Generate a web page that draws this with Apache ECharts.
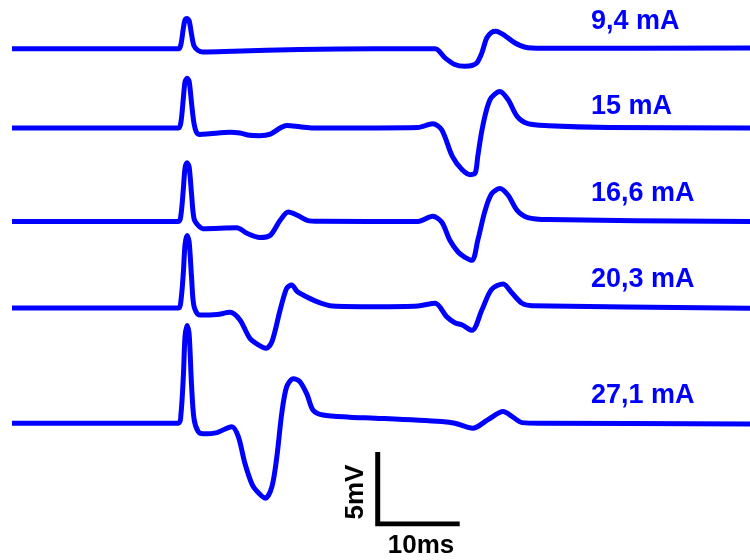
<!DOCTYPE html>
<html>
<head>
<meta charset="utf-8">
<script src="https://cdn.jsdelivr.net/npm/echarts@6/dist/echarts.min.js"></script>
<style>
  html, body { margin: 0; padding: 0; background: #fff; }
  #main { width: 750px; height: 560px; }
</style>
</head>
<body>
<div id="main"></div>
<script>
// stimulus intensities (one trace each)
var currents = ['9,4 mA', '15 mA', '16,6 mA', '20,3 mA', '27,1 mA'];

// [time ms, potential mV] relative to each trace's baseline
var trace94 = [[0,0],[20.3,0],[20.6,0.3],[20.9,1.45],[21.1,2.0],[21.35,2.1],[21.6,1.95],[21.9,1.0],[22.2,0.2],[22.7,-0.12],[23.3,-0.22],
  [27.0,-0.17],[35.1,-0.05],[44.3,0],[51.6,0],[52.8,-0.63],[54.0,-1.09],[55.2,-1.21],[56.1,-1.16],[56.7,-0.97],[57.3,-0.28],
  [57.9,0.76],[58.5,1.15],[59.0,1.22],[60.1,0.92],[61.3,0.42],[62.6,0.11],[64.6,0.04],[90,0.05]];

var trace15 = [[0,0],[20.3,0],[20.6,0.4],[20.9,2.1],[21.1,3.2],[21.35,3.46],[21.6,3.25],[21.9,1.7],[22.2,0.3],[22.5,-0.3],[22.9,-0.45],
  [24.1,-0.4],[26.6,-0.3],[27.8,-0.35],[29.0,-0.51],[30.2,-0.53],[31.5,-0.42],[32.7,0],[33.5,0.18],[35.1,0.09],[36.7,0],
  [49.5,0.04],[51.3,0.3],[52.4,-0.12],[53.7,-1.97],[54.9,-2.9],[55.9,-3.24],[56.5,-3.12],[56.8,-1.97],[57.4,0.11],[58.3,1.97],
  [59.5,2.54],[60.5,1.97],[61.6,0.81],[62.9,0.3],[65.4,0.16],[72.7,0.04],[90,0]];

var trace166 = [[0,0],[20.3,0],[20.6,0.45],[20.9,2.3],[21.1,3.7],[21.35,4.08],[21.6,3.8],[21.9,1.9],[22.2,0.2],[22.7,-0.26],[23.3,-0.49],
  [27.4,-0.43],[28.7,-0.83],[30.2,-1.11],[31.5,-0.95],[32.7,0.09],[33.7,0.67],[34.8,0.44],[36.0,0.09],[37.6,0.02],
  [49.5,0],[51.3,0.37],[52.4,-0.03],[53.4,-1.3],[54.4,-2.11],[55.2,-2.46],[56.1,-2.69],[56.8,-1.3],[57.7,0.78],[58.5,1.94],
  [59.5,2.29],[60.5,1.83],[61.6,0.78],[62.9,0.28],[65.4,0.14],[90,0]];

var trace203 = [[0,0],[20.3,0],[20.6,0.5],[20.9,2.5],[21.1,4.4],[21.35,5.03],[21.6,4.6],[21.9,2.1],[22.2,0.1],[22.9,-0.49],
  [25.0,-0.45],[26.6,-0.3],[27.8,-0.83],[29.0,-2.1],[30.2,-2.62],[31.0,-2.8],[31.7,-2.34],[32.7,-0.14],[33.5,1.37],[34.1,1.6],
  [34.8,1.13],[35.5,0.9],[37.2,0.44],[39.1,0.14],[44.3,0.09],[49.5,0.14],[51.6,0.33],[53.0,-0.6],[54.0,-1.02],[54.9,-1.18],
  [56.1,-1.55],[57.3,-0.14],[58.5,1.3],[59.9,1.67],[61.0,1.02],[62.2,0.33],[63.4,0.16],[90,-0.02]];

var trace271 = [[0,0],[20.3,0],[20.6,0.6],[20.9,3.3],[21.1,6.0],[21.35,6.79],[21.6,6.2],[21.9,2.6],[22.2,0.3],[22.7,-0.58],[23.3,-0.74],
  [25.0,-0.65],[26.8,-0.24],[27.6,-0.93],[28.4,-2.78],[29.3,-4.28],[29.9,-4.75],[30.9,-5.21],[31.7,-4.4],[32.3,-2.32],[32.9,0.69],
  [33.5,2.54],[34.3,3.08],[35.1,2.89],[36.0,1.97],[36.7,0.92],[37.9,0.57],[41.2,0.42],[44.3,0.35],[52.4,0.11],[54.0,0],
  [56.2,-0.35],[58.0,0.23],[59.9,0.81],[61.0,0.46],[62.2,0.04],[64.6,0],[90,-0.05]];

var traces = [trace94, trace15, trace166, trace203, trace271];

// scale bar size
var barMs = 10, barMv = 5;

// layout: vertical stacking of traces (mV) and scale bar corner
var stackMv = [33, 27.5, 21, 15, 7];
var barStartMs = 44.6;
var labelY = [23, 108, 195.5, 281.3, 397.5];

var myChart = echarts.init(document.getElementById('main'));

var series = traces.map(function (tr, i) {
  return {
    type: 'line',
    name: currents[i],
    data: tr.map(function (p) { return [p[0], p[1] + stackMv[i]]; }),
    showSymbol: false,
    symbol: 'none',
    smooth: 0.3,
    lineStyle: { color: '#0000ff', width: 5, join: 'round' }
  };
});

series.push({
  type: 'line',
  name: 'scale',
  data: [[barStartMs, barMv], [barStartMs, 0], [barStartMs + barMs, 0]],
  symbol: 'none',
  lineStyle: { color: '#000', width: 5, cap: 'butt', join: 'miter' }
});

var graphics = currents.map(function (c, i) {
  return {
    type: 'text',
    left: 591,
    top: labelY[i] - 15,
    style: {
      text: c,
      fill: '#0000ff',
      font: 'bold 27px "Liberation Sans", Arial, sans-serif'
    }
  };
});
graphics.push({
  type: 'text',
  x: 356, y: 492,
  rotation: Math.PI / 2,
  style: {
    text: barMv + 'mV',
    fill: '#000',
    font: 'bold 26px "Liberation Sans", Arial, sans-serif',
    textAlign: 'center',
    textVerticalAlign: 'middle'
  }
});
graphics.push({
  type: 'text',
  x: 421, y: 546,
  style: {
    text: barMs + 'ms',
    fill: '#000',
    font: 'bold 26px "Liberation Sans", Arial, sans-serif',
    textAlign: 'center',
    textVerticalAlign: 'middle'
  }
});

var option = {
  animation: false,
  grid: { left: 12, right: 0, top: 5.6, bottom: 36 },
  xAxis: { type: 'value', min: 0, max: 90, show: false },
  yAxis: { type: 'value', min: 0, max: 36, show: false },
  series: series,
  graphic: graphics
};
myChart.setOption(option);
</script>
</body>
</html>
